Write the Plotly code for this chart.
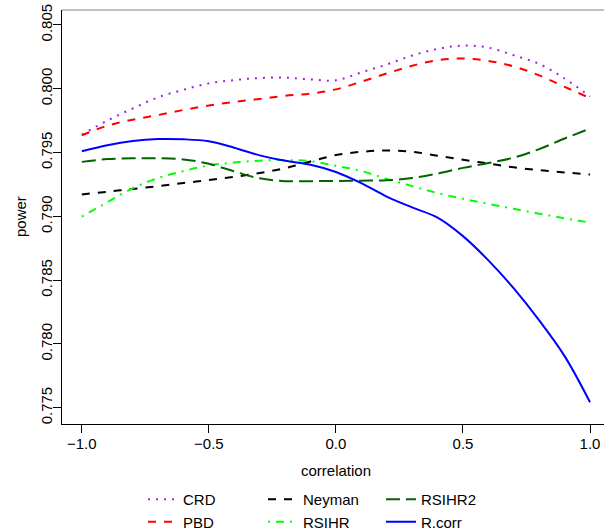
import plotly.graph_objects as go

correlation = [-1.0, -0.9, -0.8, -0.7, -0.6, -0.5, -0.4, -0.3, -0.2, -0.1, 0.0,
               0.1, 0.2, 0.3, 0.4, 0.5, 0.6, 0.7, 0.8, 0.9, 1.0]

crd = [0.79641, 0.79750, 0.79845, 0.79933, 0.79992, 0.80042, 0.80068, 0.80084, 0.80087, 0.80073, 0.80066,
       0.80128, 0.80190, 0.80260, 0.80312, 0.80338, 0.80322, 0.80262, 0.80195, 0.80080, 0.79940]
pbd = [0.79635, 0.79710, 0.79757, 0.79794, 0.79834, 0.79868, 0.79897, 0.79920, 0.79945, 0.79962, 0.79995,
       0.80055, 0.80120, 0.80180, 0.80224, 0.80237, 0.80218, 0.80175, 0.80105, 0.80015, 0.79927]
neyman = [0.79172, 0.79193, 0.79215, 0.79236, 0.79261, 0.79285, 0.79310, 0.79340, 0.79378, 0.79430, 0.79480,
          0.79506, 0.79516, 0.79506, 0.79475, 0.79444, 0.79414, 0.79384, 0.79362, 0.79344, 0.79328]
rsihr = [0.78998, 0.79110, 0.79220, 0.79300, 0.79355, 0.79399, 0.79422, 0.79436, 0.79441, 0.79432, 0.79396,
         0.79355, 0.79294, 0.79237, 0.79182, 0.79138, 0.79098, 0.79059, 0.79021, 0.78985, 0.78951]
rsihr2 = [0.79427, 0.79449, 0.79455, 0.79455, 0.79446, 0.79412, 0.79352, 0.79298, 0.79276, 0.79276, 0.79277,
          0.79280, 0.79283, 0.79300, 0.79335, 0.79380, 0.79418, 0.79460, 0.79527, 0.79610, 0.79688]
rcorr = [0.79510, 0.79558, 0.79591, 0.79606, 0.79604, 0.79588, 0.79538, 0.79478, 0.79435, 0.79405, 0.79348,
         0.79260, 0.79155, 0.79070, 0.78990, 0.78845, 0.78655, 0.78435, 0.78185, 0.77905, 0.77544]

series_names = ["CRD", "PBD", "Neyman", "RSIHR", "RSIHR2", "R.corr"]
series_values = [crd, pbd, neyman, rsihr, rsihr2, rcorr]
series_colors = ["#A020F0", "#FF0000", "#000000", "#00FF00", "#006400", "#0000FF"]
series_dash = ["2px,6px", "8px,8px", "8px,8px", "2px,6px,8px,6px", "14px,6px", "solid"]
series_legend = ["legend", "legend", "legend2", "legend2", "legend3", "legend3"]

y_ticks = [0.775, 0.780, 0.785, 0.790, 0.795, 0.800, 0.805]
x_ticks = [-1.0, -0.5, 0.0, 0.5, 1.0]
x_title = "correlation"
y_title = "power"

FONT = "Liberation Sans, Arial, Helvetica, sans-serif"
W, H = 604, 532

fig = go.Figure()
for name, vals, col, dash, leg in zip(series_names, series_values, series_colors, series_dash, series_legend):
    fig.add_trace(go.Scatter(
        x=correlation, y=vals, mode="lines", name=name, legend=leg,
        line=dict(color=col, width=2, dash=dash, shape="spline", smoothing=1.0),
    ))


def legend_at(px_left, px_top):
    return dict(
        orientation="v", xref="container", yref="container",
        x=px_left / W, xanchor="left", y=1 - px_top / H, yanchor="top",
        font=dict(family=FONT, size=15, color="black"),
        bgcolor="rgba(0,0,0,0)", borderwidth=0, tracegroupgap=0,
        traceorder="normal",
    )


fig.update_layout(
    width=W, height=H,
    margin=dict(l=62, r=0, t=10, b=108, autoexpand=False),
    paper_bgcolor="white", plot_bgcolor="white",
    font=dict(family=FONT, size=15, color="black"),
    showlegend=True,
    legend=legend_at(143, 483),
    legend2=legend_at(263, 483),
    legend3=legend_at(381, 483),
    xaxis=dict(
        range=[-1.078, 1.055], showgrid=False, zeroline=False, automargin=False,
        showline=True, linecolor="black", linewidth=1,
        ticks="outside", ticklen=8, tickcolor="black", tickwidth=1,
        tickvals=x_ticks, tickformat=".1f", ticklabelstandoff=-2,
    ),
    yaxis=dict(
        range=[0.77373, 0.80617], showgrid=False, zeroline=False, automargin=False,
        showline=True, linecolor="black", linewidth=1,
        ticks="outside", ticklen=8, tickcolor="black", tickwidth=1,
        tickvals=y_ticks, tickformat=".3f", tickangle=-90, ticklabelstandoff=-5,
    ),
    shapes=[dict(type="line", xref="paper", yref="paper", x0=0, x1=1, y0=1, y1=1,
                 line=dict(color="#808080", width=1))],
    annotations=[
        dict(text=x_title, xref="x", yref="paper", x=0.0, y=0, yshift=-46,
             xanchor="center", yanchor="middle", showarrow=False,
             font=dict(family=FONT, size=15, color="black")),
        dict(text=y_title, xref="paper", yref="paper", x=0, y=0.5, xshift=-42,
             xanchor="center", yanchor="middle", textangle=-90, showarrow=False,
             font=dict(family=FONT, size=15, color="black")),
    ],
)

fig.write_html(
    "out.html",
    config={"displayModeBar": False},
    post_script="document.body.style.margin='0';document.body.style.overflow='hidden';",
)
